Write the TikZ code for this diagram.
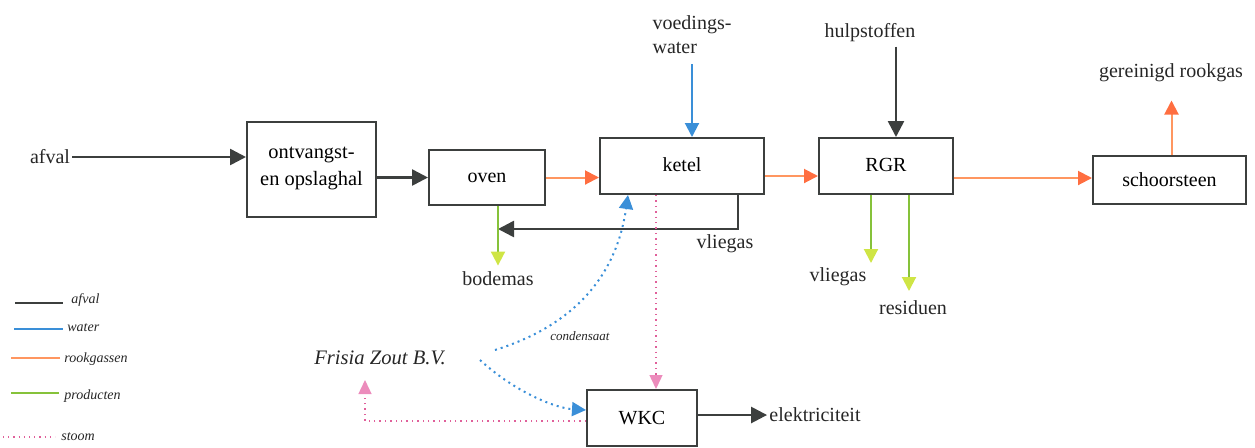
\documentclass[tikz,border=0pt]{standalone}
\usepackage{fontspec}
\setmainfont{Liberation Serif}
\usetikzlibrary{arrows.meta,calc}
\definecolor{afvc}{HTML}{3C3F3E}
\definecolor{watc}{HTML}{3A8FD8}
\definecolor{rookc}{HTML}{FF9660}
\definecolor{rookh}{HTML}{FF6E40}
\definecolor{prodc}{HTML}{86C23A}
\definecolor{prodh}{HTML}{CFE545}
\definecolor{stoomc}{HTML}{E0609A}
\definecolor{stoomh}{HTML}{EC8CBC}
\tikzset{
  box/.style={draw=afvc,line width=1pt,fill=white,inner sep=0pt,font=\fontsize{10}{12}\selectfont},
  lbl/.style={inner sep=1pt,font=\fontsize{10}{12}\selectfont,text=black!85},
  leg/.style={anchor=west,inner sep=0pt,font=\itshape\fontsize{7}{8}\selectfont,text=black!85},
  afv/.style={draw=afvc,line width=1.3pt,-{Triangle[length=8pt,width=8pt,color=afvc]}},
  wat/.style={draw=watc,line width=1pt,-{Triangle[length=7pt,width=7pt,color=watc]}},
  watdot/.style={draw=watc,line width=1pt,dotted,-{Triangle[length=7pt,width=7pt,color=watc]}},
  rook/.style={draw=rookc,line width=1pt,-{Triangle[length=7pt,width=7pt,color=rookh]}},
  prod/.style={draw=prodc,line width=1pt,-{Triangle[length=7pt,width=7pt,color=prodh]}},
  stoom/.style={draw=stoomc,line width=0.7pt,dotted,-{Triangle[length=7pt,width=6.5pt,color=stoomh]}},
}
\begin{document}
\begin{tikzpicture}[x=0.5pt,y=-0.5pt]
\useasboundingbox (0,0) rectangle (1255,447);
% boxes
\node[box,minimum width=64.5pt,minimum height=47.5pt,align=center,font=\fontsize{10.2}{10}\selectfont] (ontv) at (311.5,169.5) {\raisebox{3.5pt}{\shortstack{ontvangst-\\[1pt]en opslaghal}}};
\node[box,minimum width=58pt,minimum height=27.5pt] (oven) at (487,177.5) {oven};
\node[box,minimum width=82pt,minimum height=28pt] (ketel) at (682,166) {\raisebox{1.5pt}{ketel}};
\node[box,minimum width=67pt,minimum height=28pt] (RGR) at (886,166) {\raisebox{1.5pt}{RGR}};
\node[box,minimum width=76.5pt,minimum height=24pt] (schoor) at (1169.5,180) {schoorsteen};
\node[box,minimum width=55pt,minimum height=28pt] (WKC) at (642,418) {WKC};
% labels
\node[lbl] (afval) at (50,157) {afval};
\node[lbl,align=left] (voeding) at (692,35) {voedings-\\water};
\node[lbl] (hulp) at (870,33) {hulpstoffen};
\node[lbl] (gerein) at (1171,73) {gereinigd rookgas};
\node[lbl] (bodemas) at (498,279) {bodemas};
\node[lbl] (vlieg1) at (725,244) {vliegas};
\node[lbl] (vlieg2) at (838,277) {vliegas};
\node[lbl] (resid) at (913,308) {residuen};
\node[lbl] (elek) at (815,415) {elektriciteit};
\node[lbl,font=\itshape\fontsize{10.3}{12}\selectfont] (frisia) at (380,358) {Frisia Zout B.V.};
\node[lbl,font=\itshape\fontsize{6.5}{8}\selectfont] (conds) at (580,336) {condensaat};
% anchor coordinates
\coordinate (rgrin) at ([xshift=5pt]RGR.north);
\coordinate (kv) at ([xshift=28pt]ketel.south);
\coordinate (ovb) at ([xshift=5.5pt]oven.south);
\coordinate (ovr) at (498,229);
\coordinate (rg1) at ([xshift=-7.5pt]RGR.south);
\coordinate (rg2) at ([xshift=11.5pt]RGR.south);
\coordinate (kp) at ([xshift=-13pt]ketel.south);
\coordinate (kc) at ([xshift=-27pt]ketel.south);
\coordinate (cs) at (495,350);
\coordinate (fs) at (480,360);
\coordinate (fz) at (365,380);
\coordinate (sch) at ([xshift=1pt]schoor.north);
% main flow
\draw[afv] (afval.east) -- (afval.east -| ontv.west);
\draw[afv] (ontv.east |- oven) -- (oven.west);
\draw[rook] (oven.east) -- (oven.east -| ketel.west);
\draw[rook] ([yshift=-5pt]ketel.east) -- ([yshift=-5pt]RGR.west);
\draw[rook] ([yshift=-6pt]RGR.east) -- ([yshift=-6pt]RGR.east -| schoor.west);
\draw[rook,shorten >=8pt] (sch) -- (sch |- gerein.south);
\draw[afv,shorten <=1pt] (hulp.south -| rgrin) -- (rgrin);
\draw[wat,shorten <=4pt] (voeding.south) -- (voeding.south |- ketel.north);
\draw[afv] (kv) |- (ovr);
\draw[prod,shorten >=2pt] (ovb) -- (bodemas.north);
\draw[prod] (rg1) -- ++(0,68);
\draw[prod] (rg2) -- ++(0,96);
\draw[stoom] (kp) -- (kp |- WKC.north);
\draw[watdot] (cs) .. controls (585,322) and (618,265) .. (kc);
\draw[watdot] (fs) .. controls (515,392) and (555,408) .. ([yshift=4pt]WKC.west);
\draw[stoom] ([yshift=-1.5pt]WKC.west) -| (fz);
\draw[afv] (elek.west -| WKC.east) -- (elek.west);
% legend
\draw[afvc,line width=1.2pt] (15,303) -- (63,303);
\node[leg] at (71,300) {afval};
\draw[watc,line width=1pt] (14,329) -- (63,329);
\node[leg] at (67,328) {water};
\draw[rookc,line width=1pt] (11,358) -- (60,358);
\node[leg] at (64,359) {rookgassen};
\draw[prodc,line width=1pt] (11,393) -- (59,393);
\node[leg] at (64,396) {producten};
\draw[stoomc,line width=0.6pt,dotted] (3,437) -- (55,437);
\node[leg] at (61,437) {stoom};
\end{tikzpicture}
\end{document}
